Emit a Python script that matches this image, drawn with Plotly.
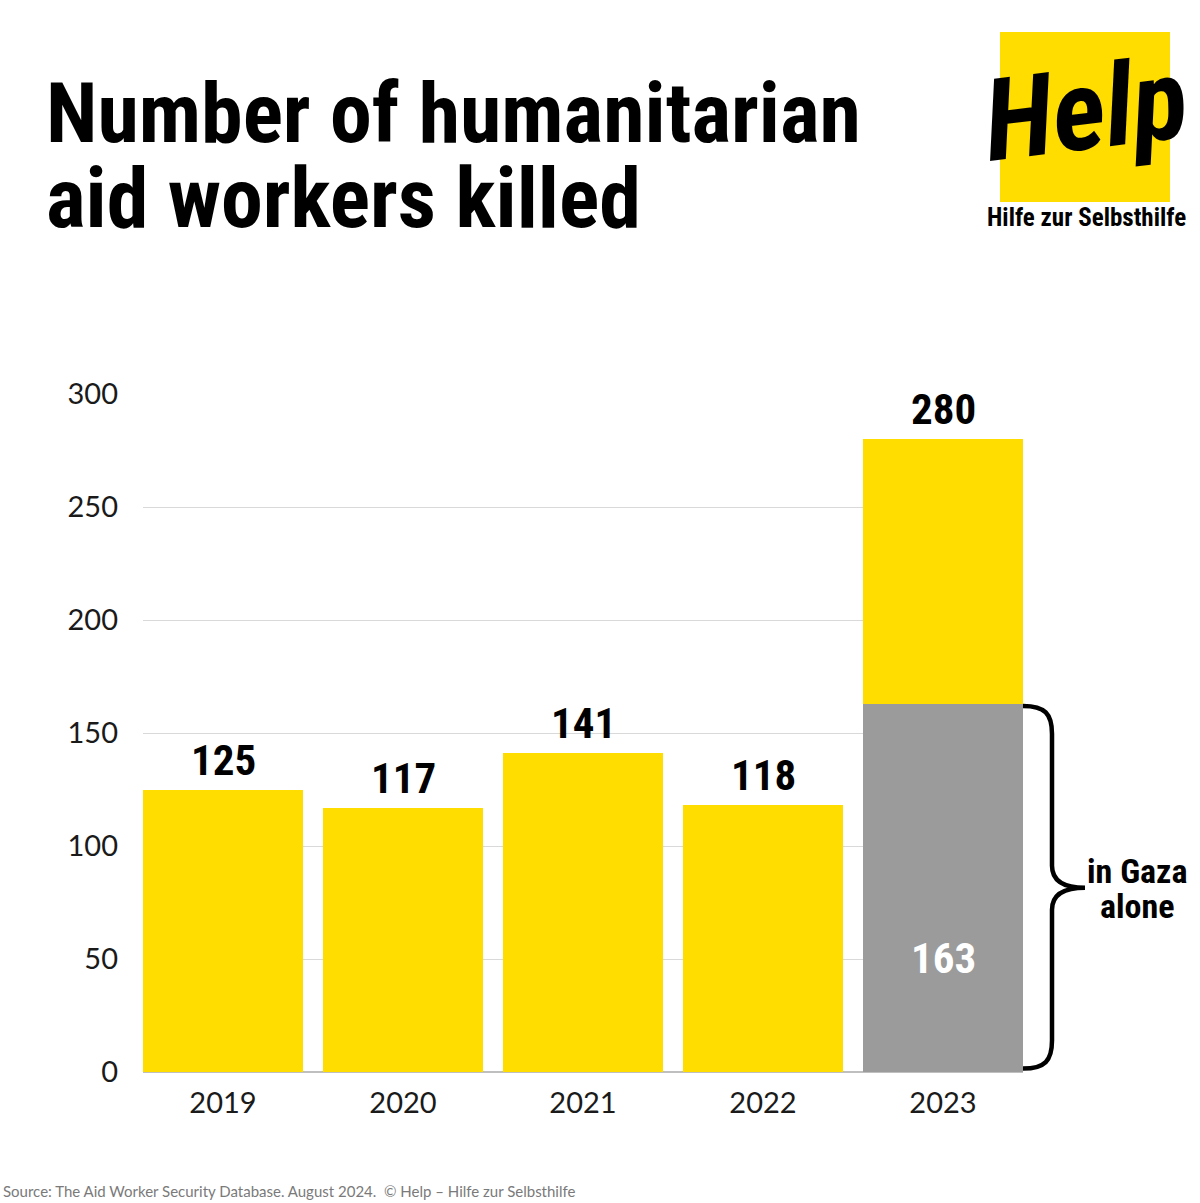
import plotly.graph_objects as go

# ---- data ----
years = ["2019", "2020", "2021", "2022", "2023"]
killed_total = [125, 117, 141, 118, 280]
gaza_2023 = 163
y_ticks = [0, 50, 100, 150, 200, 250, 300]

YELLOW = "#FFDD00"
GREY = "#9B9B9B"

# ---- layout geometry (pixels) ----
W, H = 1200, 1203
L, R, T, B = 143, 1023, 394, 1072   # plot area in px

def px(x):
    return (x - L) / (R - L)

def py(y):
    return (B - y) / (B - T)

xpos = list(range(len(years)))
bw = 160 / 180

yellow_vals = [v if i < len(years) - 1 else v - gaza_2023 for i, v in enumerate(killed_total)]
grey_vals = [0] * (len(years) - 1) + [gaza_2023]

fig = go.Figure()
fig.add_trace(go.Bar(x=xpos, y=grey_vals, width=bw, marker=dict(color=GREY, line=dict(width=0)),
                     hoverinfo="skip", showlegend=False))
fig.add_trace(go.Bar(x=xpos, y=yellow_vals, width=bw, marker=dict(color=YELLOW, line=dict(width=0)),
                     hoverinfo="skip", showlegend=False))

COND = "Roboto Condensed, Noto Sans Condensed, DejaVu Sans Condensed, sans-serif"
ppu = (B - T) / 300.0
def yd(off_px, base):
    return base + off_px / ppu

annotations = []
label_font = dict(family=COND, size=43, color="black", weight="bold")
for i, v in enumerate(killed_total):
    annotations.append(dict(x=xpos[i], y=v, xref="x", yref="y", text=str(v), showarrow=False,
                            xanchor="center", yanchor="bottom", yshift=3, font=label_font))
annotations.append(dict(x=xpos[-1], y=gaza_2023 * 0.31, xref="x", yref="y", text=str(gaza_2023),
                        showarrow=False, xanchor="center", yanchor="middle",
                        font=dict(family=COND, size=43, color="white", weight="bold")))

# Title (two lines placed separately for tight leading)
title_lines = ["Number of humanitarian", "aid workers killed"]
for line, bottom_px in zip(title_lines, [165, 250]):
    annotations.append(dict(x=px(44), y=py(bottom_px), xref="paper", yref="paper", xanchor="left",
                            yanchor="bottom", align="left", showarrow=False, text=line,
                            font=dict(family=COND, size=84, color="black", weight="bold")))
# "in Gaza alone"
mid = gaza_2023 / 2
for line, off in zip(["in Gaza", "alone"], [17, -18]):
    annotations.append(dict(x=px(1137), y=yd(off, mid), xref="paper", yref="y", showarrow=False,
                            xanchor="center", yanchor="middle", text=line,
                            font=dict(family=COND, size=34, color="black", weight="bold")))
# Logo
annotations.append(dict(x=px(1085), y=py(110), xref="paper", yref="paper", showarrow=False,
                        xanchor="center", yanchor="middle",
                        text="Help", textangle=-7,
                        font=dict(family=COND, size=114, color="black", weight="bold", style="italic")))
annotations.append(dict(x=px(1086), y=py(218), xref="paper", yref="paper", showarrow=False,
                        xanchor="center", yanchor="middle",
                        text="Hilfe zur Selbsthilfe",
                        font=dict(family=COND, size=25, color="black", weight="bold")))
# Source
annotations.append(dict(x=px(1), y=py(1191), xref="paper", yref="paper", showarrow=False,
                        xanchor="left", yanchor="middle",
                        text="Source: The Aid Worker Security Database. August 2024.  \u00a9 Help \u2013 Hilfe zur Selbsthilfe",
                        font=dict(family="Lato, sans-serif", size=15, color="#7a7a7a")))

# Brace (x in paper, y in data)
top, bot = gaza_2023 - 1, 1.5
x0, xv, xt = px(1023), px(1052), px(1085)
path = (f"M {x0},{yd(0, top)} "
        f"C {px(1045)},{yd(0, top)} {xv},{yd(-8, top)} {xv},{yd(-28, top)} "
        f"L {xv},{yd(22, mid)} "
        f"C {xv},{yd(8, mid)} {px(1062)},{yd(0, mid)} {xt},{mid} "
        f"C {px(1062)},{yd(0, mid)} {xv},{yd(-8, mid)} {xv},{yd(-22, mid)} "
        f"L {xv},{yd(28, bot)} "
        f"C {xv},{yd(8, bot)} {px(1045)},{yd(0, bot)} {x0},{yd(0, bot)}")

shapes = [
    dict(type="path", path=path, xref="paper", yref="y", line=dict(color="black", width=4.5), layer="above"),
    dict(type="rect", xref="paper", yref="paper", x0=px(1000), x1=px(1170), y0=py(202), y1=py(32),
         fillcolor=YELLOW, line=dict(width=0), layer="below"),
]

fig.update_layout(
    width=W, height=H, barmode="stack",
    margin=dict(l=L, r=W - R, t=T, b=H - B, pad=0),
    paper_bgcolor="white", plot_bgcolor="white",
    xaxis=dict(range=[-0.5 + (1 - bw) / 2, len(years) - 0.5 - (1 - bw) / 2], tickvals=xpos, ticktext=years,
               showgrid=False, zeroline=False, showline=False, ticks="", ticklabelstandoff=11,
               tickfont=dict(family="Lato, sans-serif", size=29, color="#1a1a1a"), fixedrange=True),
    yaxis=dict(range=[0, 300], tickvals=y_ticks, showgrid=True, gridcolor="#d9d9d9", gridwidth=1.3,
               zeroline=True, zerolinecolor="#bfbfbf", zerolinewidth=1.5, showline=False, ticks="",
               ticklabelstandoff=24, tickfont=dict(family="Lato, sans-serif", size=29, color="#1a1a1a"),
               fixedrange=True),
    annotations=annotations, shapes=shapes, showlegend=False,
)

fig.write_html("out.html")
